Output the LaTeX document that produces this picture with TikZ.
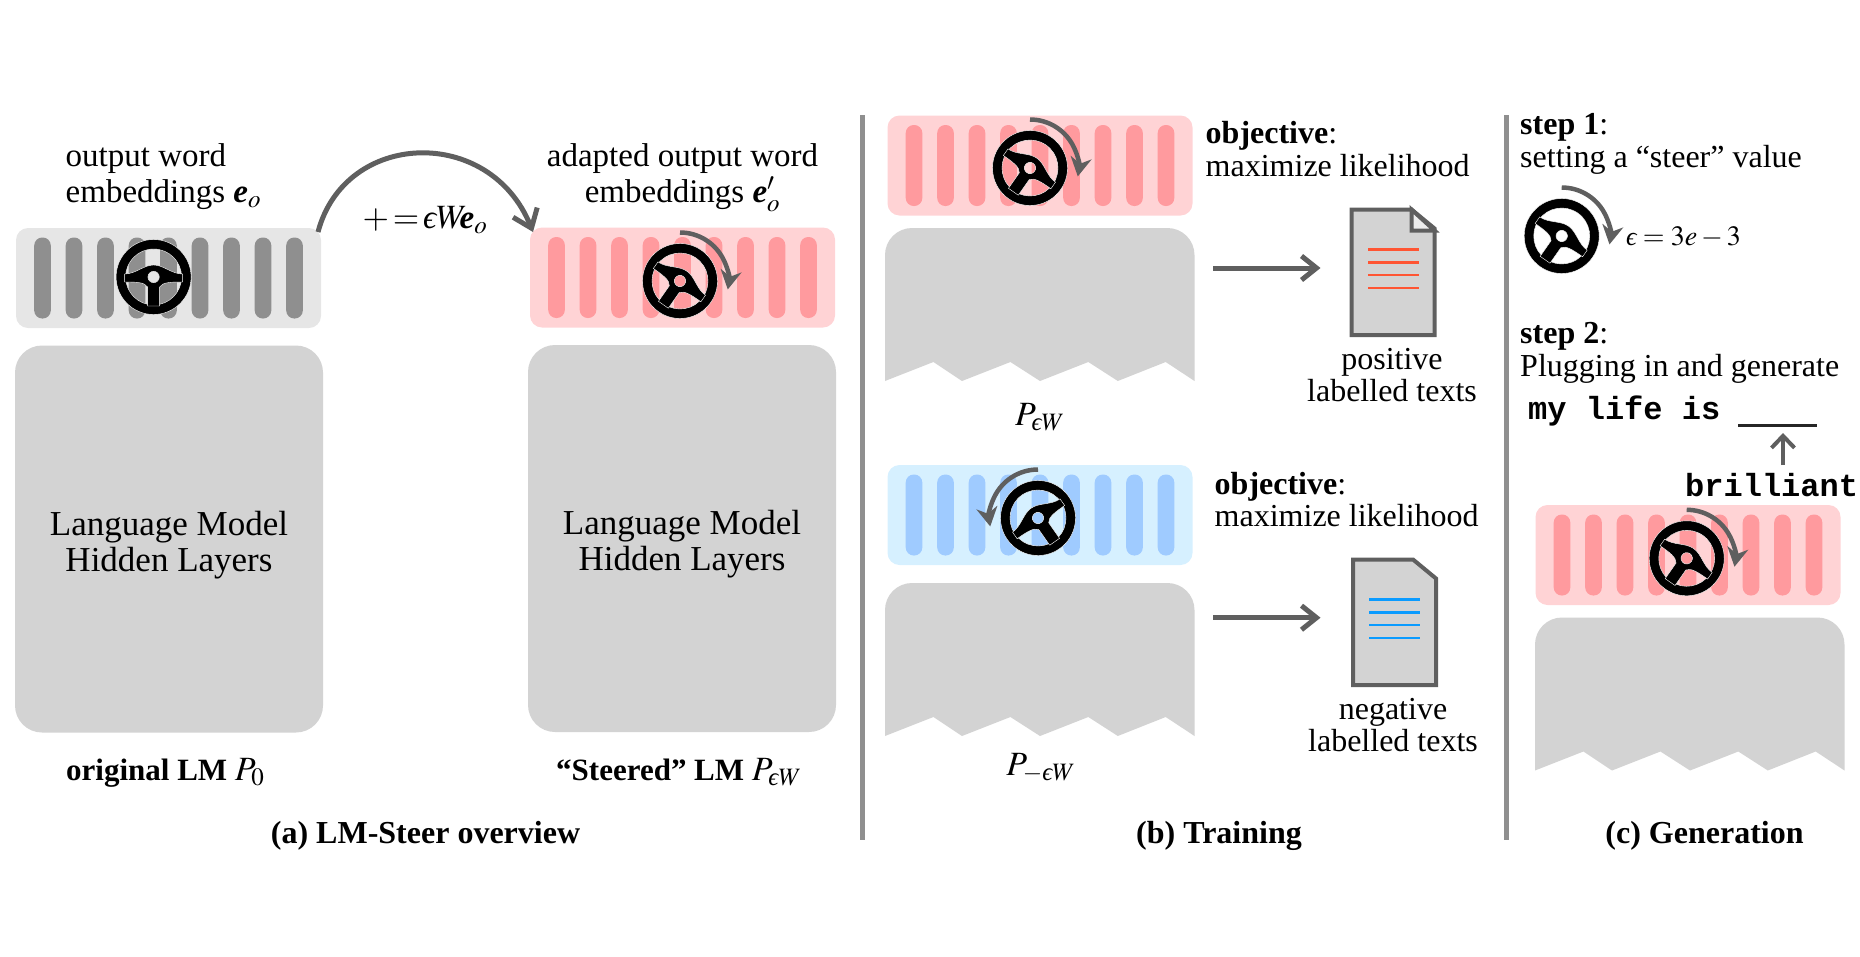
\documentclass[tikz,border=0pt]{standalone}
\usepackage{amsmath}
\usepackage{mathptmx}
\usepackage[no-math]{fontspec}
\setmainfont{Liberation Serif}
\setmonofont{Liberation Mono}
\usetikzlibrary{arrows.meta,shapes}
\DeclareMathSizes{26}{28}{20}{15}
\DeclareMathSizes{31}{34}{25}{18}
\DeclareMathSizes{33}{34}{25}{18}
\newcommand{\lunate}{\text{\normalfont\itshape ϵ}}
\newcommand{\bolde}{\text{\normalfont\bfseries\itshape e}}
\definecolor{blockgray}{HTML}{D3D3D3}
\definecolor{arrowgray}{HTML}{5F5F5F}
\definecolor{rulegray}{HTML}{8F8F8F}
\definecolor{lightred}{HTML}{FFD3D5}
\definecolor{midred}{HTML}{FF9A9E}
\definecolor{lightblue}{HTML}{D6F0FF}
\definecolor{midblue}{HTML}{9FCBFF}
\definecolor{lightgray}{HTML}{E6E6E6}
\definecolor{lineblue}{HTML}{0A9BFF}
\definecolor{linered}{HTML}{FF5533}
\tikzstyle{embbox}=[rounded corners=12pt,minimum width=305pt,minimum height=100pt,inner sep=0pt]
\tikzstyle{embbox red}=[embbox,fill=lightred]
\tikzstyle{embbox blue}=[embbox,fill=lightblue]
\tikzstyle{embbox gray}=[embbox,fill=lightgray]
\tikzstyle{embbar}=[rounded corners=8pt,minimum width=16.6pt,minimum height=81pt,inner sep=0pt]
\tikzstyle{embbar red}=[embbar,fill=midred]
\tikzstyle{embbar blue}=[embbar,fill=midblue]
\tikzstyle{embbar gray}=[embbar,fill=rulegray]
\tikzstyle{hiddenblock}=[rounded corners=27pt,fill=blockgray,minimum width=308pt,minimum height=387pt,inner sep=0pt]
\tikzstyle{tornblock}=[fill=blockgray]
\tikzstyle{wheelpart}=[fill=black,even odd rule,draw=white,line width=.4pt]
\tikzstyle{steerarrow}=[draw=arrowgray,line width=4.5pt,-{Stealth[length=19pt,width=21pt]}]
\tikzstyle{flow}=[draw=arrowgray,line width=5pt,-{Straight Barb[length=15pt,width=24pt]}]
\tikzstyle{bigarc}=[draw=arrowgray,line width=5pt,-{Straight Barb[length=17pt,width=26pt]}]
\tikzstyle{doc}=[draw=arrowgray,line width=4pt,fill=blockgray,miter limit=4]
\tikzstyle{divider}=[draw=rulegray,line width=5pt]
\tikzstyle{body}=[inner sep=0pt,font=\fontsize{33}{36}\selectfont]
\tikzstyle{layers}=[inner sep=0pt,font=\fontsize{35}{36}\selectfont]
\tikzstyle{label}=[inner sep=0pt,font=\fontsize{32}{32.5}\selectfont]
\tikzstyle{subhead}=[inner sep=0pt,font=\fontsize{31}{36}\selectfont\bfseries]
\tikzstyle{caption}=[inner sep=0pt,font=\fontsize{32}{36}\selectfont\bfseries]
\tikzstyle{mono}=[inner sep=0pt,font=\fontsize{32}{36}\selectfont\ttfamily\bfseries]

\begin{document}
\begin{tikzpicture}[x=1pt,y=-1pt]
    \useasboundingbox (0,0) rectangle (1860,956);

    % embedding strips with their bars
    \foreach \px/\py/\name/\kind in {168.5/278/embO/gray, 682.5/277.5/embS/red, 1040/165.5/embP/red, 1040/515/embN/blue, 1688/555/embG/red} {
        \node[embbox \kind] (\name) at (\px,\py) {};
        \foreach \i in {-4,...,4}
            \node[embbar \kind,xshift=\i*31.5pt] (\name-\i) at (\name) {};
    }

    % hidden layers
    \foreach \px/\py/\name in {169/539/bodyO, 682/538.5/bodyS} 
        \node[hiddenblock] (\name) at (\px,\py) {};
    \node[layers,align=center,yshift=-6pt] (layersO) at (bodyO) {Language Model\\Hidden Layers};
    \node[layers,align=center,yshift=-6pt] (layersS) at (bodyS) {Language Model\\Hidden Layers};

    % torn blocks
    \foreach \px/\py in {885/228, 885/583, 1535/617.5}
        \fill[tornblock,shift={(\px,\py)}] (0,153) [rounded corners=27pt] -- (0,0) -- (309.5,0) [sharp corners] -- (309.5,153)
            -- (280.7,134) -- (232.8,153) -- (203.3,134) -- (155,153) -- (125.4,134) -- (77,153) -- (48.4,134) -- cycle;

    % the wheels
    \foreach \px/\py/\name/\rot in {153.6/277/wheelO/0, 680/281/wheelS/-35, 1030/168/wheelP/-35, 1038/518/wheelN/35, 1561.7/236/wheelC/-35, 1686.7/558.3/wheelG/-35} {
        \coordinate (\name) at (\px,\py);
        \begin{scope}[shift={(\px,\py)},y=1pt,rotate=\rot]
            \fill[wheelpart] (0,0) circle (37.5) (0,0) circle (28);
            \fill[wheelpart] (-29,3) .. controls (-18,3) and (-10,12) .. (0,12) .. controls (10,12) and (18,3) .. (29,3)
                -- (29,-5) .. controls (18,-5) and (9,-5) .. (6,-10) -- (6,-29) -- (-6,-29) -- (-6,-10)
                .. controls (-9,-5) and (-18,-5) .. (-29,-5) -- cycle (0,0) circle (5.7);
        \end{scope}
    }
    % turning arrows
    \foreach \name/\sgn in {wheelS/1, wheelP/1, wheelN/-1, wheelC/1, wheelG/1}
        \draw[steerarrow,y=1pt,x=\sgn pt] (\name) ++(0,48.5) arc (90:-10:48.5);

    % panel a
    \node[body,align=left,anchor=west] (outO) at (65.5,176.5) {output word\\embeddings $\bolde_o$};
    \node[body,align=center] (outS) at (682.5,177.5) {adapted output word\\embeddings $\bolde'_o$};
    \coordinate (arcFrom) at (318,232);
    \coordinate (arcTo) at (533,232);
    \draw[bigarc] (arcFrom) .. controls (345,130) and (490,125) .. (arcTo);
    \node[body,anchor=base] (update) at (425,228) {$+\!=\!\lunate W\!\!\bolde_o$};
    \node[subhead,anchor=base west] (capO) at (66,780) {original LM $P_0$};
    \node[subhead,anchor=base west] (capS) at (556,780) {“Steered” LM $P_{\lunate W}$};
    \node[caption,anchor=base] (capA) at (425.5,843) {(a) LM-Steer overview};

    % dividers
    \coordinate (divAtop) at (862.5,115);
    \coordinate (divAbot) at (862.5,840);
    \coordinate (divBtop) at (1506.5,115);
    \coordinate (divBbot) at (1506.5,840);
    \draw[divider] (divAtop) -- (divAbot);
    \draw[divider] (divBtop) -- (divBbot);

    % panel b
    \node[label,align=left,anchor=west] (objP) at (1205.5,149) {\textbf{objective}:\\maximize likelihood};
    \node[label,align=left,anchor=west] (objN) at (1214.5,499.5) {\textbf{objective}:\\maximize likelihood};
    \node[body,anchor=base] (pP) at (1040,425) {$P_{\lunate W}$};
    \node[body,anchor=base] (pN) at (1041,775) {$P_{-\lunate W}$};
    \foreach \py/\name in {268/P, 617.7/N} {
        \coordinate (from\name) at (1213,\py);
        \coordinate (to\name) at (1320.5,\py);
        \draw[flow] (from\name) -- (to\name);
    }
    % documents
    \draw[doc] (1351.5,209.5) -- (1411.5,209.5) -- (1434.5,228.5) -- (1434.5,335) -- (1351.5,335) -- cycle;
    \draw[doc,fill=lightgray!70] (1411.5,209.5) -- (1411.5,230.5) -- (1434.5,230.5) -- cycle;
    \draw[doc] (1353,559.5) -- (1413,559.5) -- (1436,578.5) -- (1436,685) -- (1353,685) -- cycle;
    \foreach \py in {249.7,262.3,275,288}
        \draw[linered,line width=2.5pt] (1368,\py) -- (1419,\py);
    \foreach \py in {599.7,612.3,625,638}
        \draw[lineblue,line width=2.5pt] (1369,\py) -- (1420,\py);
    \node[label,align=center] (textsP) at (1392,375) {positive\\labelled texts};
    \node[label,align=center] (textsN) at (1393,725) {negative\\labelled texts};
    \node[caption,anchor=base] (capB) at (1219,843) {(b) Training};

    % panel c
    \node[label,align=left,anchor=west] (stepA) at (1520,144) {\textbf{step 1}:\\setting a “steer” value};
    \node[inner sep=0pt,font=\fontsize{26}{30}\selectfont,anchor=base west] (value) at (1626,245.7) {$\lunate=3e-3$};
    \node[label,align=left,anchor=west] (stepB) at (1520,353) {\textbf{step 2}:\\Plugging in and generate};
    \node[mono,anchor=base west] (prompt) at (1528,419) {my life is};
    \coordinate (blankL) at (1738,425.7);
    \coordinate (blankR) at (1817,425.7);
    \draw[line width=3pt,draw=black!85] (blankL) -- (blankR);
    \node[mono,anchor=base west] (word) at (1685,496.7) {brilliant};
    \coordinate (upFrom) at (1783,465);
    \coordinate (upTo) at (1783,433);
    \draw[draw=arrowgray,line width=4pt,-{Straight Barb[length=12pt,width=23pt]}] (upFrom) -- (upTo);
    \node[caption,anchor=base] (capC) at (1704.5,843) {(c) Generation};
\end{tikzpicture}
\end{document}
